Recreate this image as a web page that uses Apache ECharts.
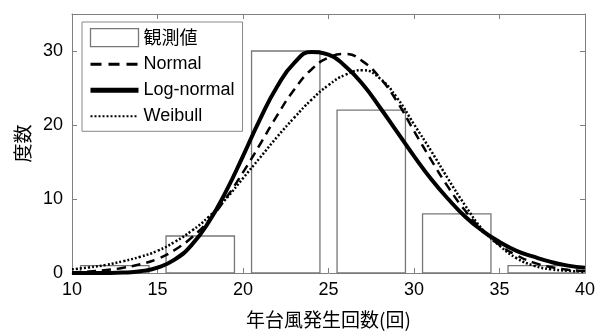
<!DOCTYPE html>
<html>
<head>
<meta charset="utf-8">
<script src="https://cdn.jsdelivr.net/npm/echarts@6/dist/echarts.min.js"></script>
<style>
html,body{margin:0;padding:0;background:#fff;}
#chart{width:598px;height:334px;}
</style>
</head>
<body>
<div id="chart"></div>
<script>
// ---- data ----
const binCenters = [12.5, 17.5, 22.5, 27.5, 32.5, 37.5];
const observed   = [1, 5, 30, 22, 8, 1];
const binWidth = 4;

const xs = [10,11,12,13,14,15,16,17,18,19,20,21,22,23,24,25,26,27,28,29,30,31,32,33,34,35,36,37,38,39,40];
const normalFit = [0.1,0.2,0.4,0.7,1.2,1.9,3.1,4.8,7.1,10.1,13.6,17.4,21.3,24.8,27.5,29.1,29.6,28.6,26.4,23.2,19.2,15.3,11.6,8.4,5.8,3.8,2.4,1.4,0.8,0.45,0.25];
const lognormalFit = [0.0,0.0,0.01,0.06,0.24,0.73,1.8,3.8,6.9,11.0,15.8,20.8,25.2,28.4,29.85,29.5,27.9,25.5,22.4,19.1,15.8,12.7,10.0,7.6,5.7,4.2,3.0,2.2,1.5,1.0,0.7];
const weibullFit = [0.5,0.75,1.1,1.6,2.2,3.0,4.2,5.7,7.6,10.0,12.8,15.6,18.4,21.0,23.4,25.4,26.8,27.4,26.3,23.7,20.1,16.5,12.7,9.1,5.9,3.7,2.0,1.0,0.5,0.3,0.15];

const yTicks = [0, 10, 20, 30];
const seriesNames = ['観測値', 'Normal', 'Log-normal', 'Weibull'];

const pairs = ys => xs.map((x, i) => [x, ys[i]]);

const chart = echarts.init(document.getElementById('chart'), null, {renderer: 'canvas'});
const frameColor = '#808080';
const labelFont = '"Liberation Sans", Arial, sans-serif';
const cjkFont = '"Noto Sans CJK JP", sans-serif';

function xAxisCfg(pos, showLabels) {
  return {
    type: 'value', position: pos, min: 10, max: 40, interval: 5,
    axisLine: {show: true, onZero: false, lineStyle: {color: frameColor, width: 1}},
    axisTick: {show: true, inside: true, length: 5, lineStyle: {color: frameColor}},
    axisLabel: {show: showLabels, color: '#000', fontSize: 18, fontFamily: labelFont, margin: 8},
    splitLine: {show: false}
  };
}
function yAxisCfg(pos, showLabels) {
  return {
    type: 'value', position: pos, min: 0, max: 35, interval: 10,
    axisLine: {show: true, onZero: false, lineStyle: {color: frameColor, width: 1}},
    axisTick: {show: true, inside: true, length: 5, lineStyle: {color: frameColor},
      customValues: yTicks},
    axisLabel: {show: showLabels, color: '#000', fontSize: 18, fontFamily: labelFont, margin: 9,
      customValues: yTicks},
    splitLine: {show: false}
  };
}

const bottomX = xAxisCfg('bottom', true);
bottomX.name = '年台風発生回数(回)';
bottomX.nameLocation = 'middle';
bottomX.nameGap = 37;
bottomX.nameTextStyle = {fontSize: 19, color: '#000', fontFamily: cjkFont};
const leftY = yAxisCfg('left', true);
leftY.name = '度数';
leftY.nameLocation = 'middle';
leftY.nameGap = 40;
leftY.nameTextStyle = {fontSize: 19, color: '#000', fontFamily: cjkFont};

const hideSymbol = {opacity: 0, borderWidth: 0};

chart.setOption({
  animation: false,
  backgroundColor: '#fff',
  grid: {left: 72, right: 9, top: 14, bottom: 60, containLabel: false},
  xAxis: [bottomX, xAxisCfg('top', false)],
  yAxis: [leftY, yAxisCfg('right', false)],
  legend: {
    left: 82, top: 22, orient: 'vertical',
    itemWidth: 48, itemHeight: 18, itemGap: 8,
    padding: [6, 8, 6, 6],
    borderColor: '#888', borderWidth: 1, backgroundColor: '#fff',
    textStyle: {fontSize: 18, color: '#000', fontFamily: labelFont},
    data: [
      {name: seriesNames[0], icon: 'rect', itemStyle: {color: '#fff', borderColor: '#777', borderWidth: 1.3},
       textStyle: {fontFamily: cjkFont, fontSize: 18}},
      {name: seriesNames[1], itemStyle: hideSymbol, lineStyle: {width: 3, type: [11, 7]}},
      {name: seriesNames[2], itemStyle: hideSymbol, lineStyle: {width: 5}},
      {name: seriesNames[3], itemStyle: hideSymbol, lineStyle: {width: 2, type: [2, 2]}}
    ]
  },
  series: [
    {
      name: seriesNames[0], type: 'custom', xAxisIndex: 0, yAxisIndex: 0,
      data: binCenters.map((c, i) => [c, observed[i]]),
      renderItem: function (params, api) {
        const c = api.value(0), h = api.value(1);
        const p0 = api.coord([c - binWidth / 2, h]);
        const p1 = api.coord([c + binWidth / 2, 0]);
        return {type: 'rect',
          shape: {x: p0[0], y: p0[1], width: p1[0] - p0[0], height: p1[1] - p0[1]},
          style: {fill: '#fff', stroke: '#777', lineWidth: 1.3}};
      },
      itemStyle: {color: '#fff', borderColor: '#777'},
      z: 1
    },
    {
      name: seriesNames[1], type: 'line', data: pairs(normalFit), smooth: true,
      symbol: 'none', lineStyle: {color: '#000', width: 2.5, type: [9, 6]}, itemStyle: {color: '#000'}, z: 3
    },
    {
      name: seriesNames[2], type: 'line', data: pairs(lognormalFit), smooth: true,
      symbol: 'none', lineStyle: {color: '#000', width: 4}, itemStyle: {color: '#000'}, z: 4
    },
    {
      name: seriesNames[3], type: 'line', data: pairs(weibullFit), smooth: true,
      symbol: 'none', lineStyle: {color: '#000', width: 2.5, type: [2, 2]}, itemStyle: {color: '#000'}, z: 2
    }
  ]
});
</script>
</body>
</html>
